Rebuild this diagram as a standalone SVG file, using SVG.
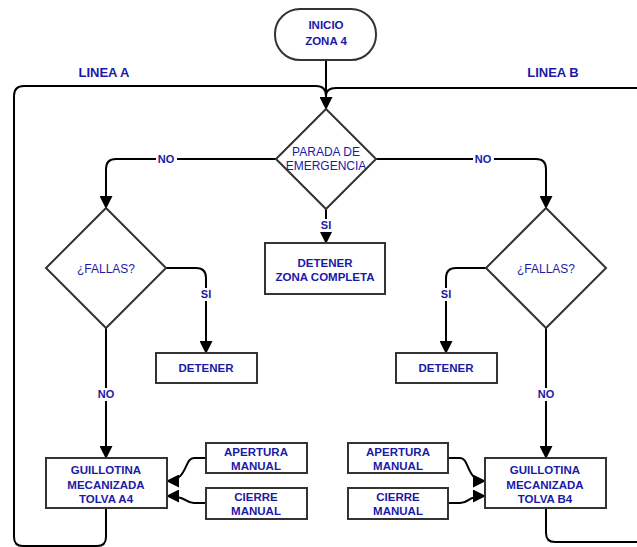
<svg xmlns="http://www.w3.org/2000/svg" width="637" height="547" viewBox="0 0 637 547">
<defs>
<marker id="arr" markerUnits="userSpaceOnUse" markerWidth="13" markerHeight="13" viewBox="0 0 13 13" refX="12" refY="6.5" orient="auto">
<path d="M0,0 L13,6.5 L0,13 z" fill="#000"/>
</marker>
<style>
.n{fill:#fff;stroke:#333;stroke-width:2}
.c{fill:none;stroke:#000;stroke-width:2}
.ca{fill:none;stroke:#000;stroke-width:2;marker-end:url(#arr)}
.t{font-family:"Liberation Sans",Arial,sans-serif;font-size:12px;fill:#1a1aa6;text-anchor:middle}
.b{font-weight:bold;font-size:11.5px}
.h{font-weight:bold;font-size:13px}
.l{font-family:"Liberation Sans",Arial,sans-serif;font-size:11px;font-weight:bold;fill:#1a1aa6;text-anchor:middle}
.bg{fill:#fff}
</style>
</defs>
<rect width="637" height="547" fill="#fff"/>
<text class="t h" x="104" y="77">LINEA A</text>
<text class="t h" x="553" y="77">LINEA B</text>
<g id="connectors">
<path class="ca" d="M326,60 V109"/>
<path class="c" d="M106,508 V537 Q106,546 97,546 H23 Q14,546 14,537 V96 Q14,86 24,86 H316 Q326,86 326,96"/>
<path class="c" d="M546,508 V533 Q546,542 555,542 H640"/>
<path class="c" d="M640,88 H336 Q326,88 326,96"/>
<path class="ca" d="M276,159 H116 Q106,159 106,169 V208"/>
<path class="ca" d="M376,159 H536 Q546,159 546,169 V208"/>
<path class="ca" d="M326,209 V243"/>
<path class="ca" d="M166,268 H196 Q206,268 206,278 V353"/>
<path class="ca" d="M486,268 H456 Q446,268 446,278 V353"/>
<path class="ca" d="M106,328 V458"/>
<path class="ca" d="M546,328 V458"/>
<path class="ca" d="M206,458 H194 C184,458 188,481 167,481"/>
<path class="ca" d="M206,503 H194 C184,503 188,496 167,496"/>
<path class="ca" d="M448,458 H460 C470,458 466,481 485,481"/>
<path class="ca" d="M448,503 H460 C470,503 466,496 485,496"/>
<rect class="bg" x="156" y="152" width="21" height="14"/>
<text class="l" x="166" y="163">NO</text>
<rect class="bg" x="473" y="152" width="21" height="14"/>
<text class="l" x="483" y="163">NO</text>
<rect class="bg" x="319" y="219" width="14" height="13"/>
<text class="l" x="326" y="229">SI</text>
<rect class="bg" x="199" y="288" width="14" height="13"/>
<text class="l" x="206" y="298">SI</text>
<rect class="bg" x="439" y="288" width="14" height="13"/>
<text class="l" x="446" y="298">SI</text>
<rect class="bg" x="96" y="388" width="21" height="13"/>
<text class="l" x="106" y="398">NO</text>
<rect class="bg" x="536" y="388" width="21" height="13"/>
<text class="l" x="546" y="398">NO</text>
</g>
<g id="inicio">
<rect class="n" x="275" y="9" width="101" height="51" rx="25"/>
<text class="t b" x="326" y="29">INICIO</text>
<text class="t b" x="326" y="45">ZONA 4</text>
</g>
<g id="parada">
<polygon class="n" points="326,109 376,159 326,209 276,159"/>
<text class="t" x="326" y="156">PARADA DE</text>
<text class="t" x="326" y="170">EMERGENCIA</text>
</g>
<g id="detener-zona">
<rect class="n" x="265" y="243" width="120" height="51"/>
<text class="t b" x="325" y="267">DETENER</text>
<text class="t b" x="325" y="281">ZONA COMPLETA</text>
</g>
<g id="fallas-a">
<polygon class="n" points="106,208 166,268 106,328 46,268"/>
<text class="t" x="106" y="273">¿FALLAS?</text>
</g>
<g id="fallas-b">
<polygon class="n" points="546,208 606,268 546,328 486,268"/>
<text class="t" x="546" y="273">¿FALLAS?</text>
</g>
<g id="detener-a">
<rect class="n" x="156" y="353" width="101" height="30"/>
<text class="t b" x="206" y="372">DETENER</text>
</g>
<g id="detener-b">
<rect class="n" x="396" y="353" width="101" height="30"/>
<text class="t b" x="446" y="372">DETENER</text>
</g>
<g id="guillotina-a">
<rect class="n" x="46" y="458" width="121" height="50"/>
<text class="t b" x="106" y="474">GUILLOTINA</text>
<text class="t b" x="106" y="489">MECANIZADA</text>
<text class="t b" x="106" y="503">TOLVA A4</text>
</g>
<g id="guillotina-b">
<rect class="n" x="485" y="458" width="121" height="50"/>
<text class="t b" x="545" y="474">GUILLOTINA</text>
<text class="t b" x="545" y="489">MECANIZADA</text>
<text class="t b" x="545" y="503">TOLVA B4</text>
</g>
<g id="apertura-a">
<rect class="n" x="206" y="443" width="101" height="30"/>
<text class="t b" x="256" y="456">APERTURA</text>
<text class="t b" x="256" y="470">MANUAL</text>
</g>
<g id="cierre-a">
<rect class="n" x="206" y="488" width="101" height="31"/>
<text class="t b" x="256" y="501">CIERRE</text>
<text class="t b" x="256" y="515">MANUAL</text>
</g>
<g id="apertura-b">
<rect class="n" x="348" y="443" width="100" height="30"/>
<text class="t b" x="398" y="456">APERTURA</text>
<text class="t b" x="398" y="470">MANUAL</text>
</g>
<g id="cierre-b">
<rect class="n" x="348" y="488" width="100" height="31"/>
<text class="t b" x="398" y="501">CIERRE</text>
<text class="t b" x="398" y="515">MANUAL</text>
</g>
</svg>
